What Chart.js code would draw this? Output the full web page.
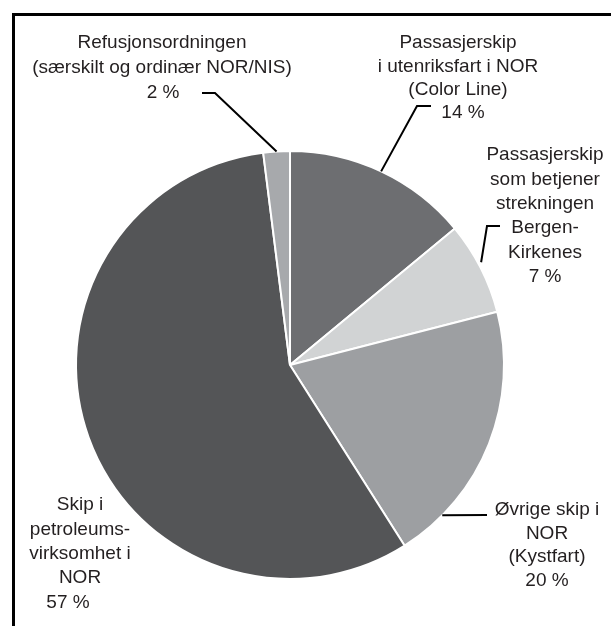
<!DOCTYPE html>
<html>
<head>
<meta charset="utf-8">
<script src="https://cdn.jsdelivr.net/npm/chart.js@4"></script>
<style>
  html, body { margin: 0; padding: 0; background: #fff; }
  #wrap { position: relative; width: 611px; height: 626px; }
</style>
</head>
<body>
<div id="wrap"><canvas id="pie" width="611" height="626"></canvas></div>
<script>
// categories, clockwise from 12 o'clock
const categories = [
  ['Passasjerskip', 'i utenriksfart i NOR', '(Color Line)'],
  ['Passasjerskip', 'som betjener', 'strekningen', 'Bergen-', 'Kirkenes'],
  ['Øvrige skip i', 'NOR', '(Kystfart)'],
  ['Skip i', 'petroleums-', 'virksomhet i', 'NOR'],
  ['Refusjonsordningen', '(særskilt og ordinær NOR/NIS)'],
];
const shares = [14, 7, 20, 57, 2];
const sliceColors = ['#6d6e71', '#d1d3d4', '#9d9fa2', '#545557', '#a7a9ac'];

// where each label sits and how its leader line runs
const labelLayout = [
  { x: 458, y: 43, step: 23.3, pctDx: 5, line: { frac: 0.5, pts: [[417, 106], [431, 106]] } },
  { x: 545, y: 155, step: 24.4, pctDx: 0, line: { frac: 0.45, out: 3, pts: [[487, 226], [500, 226]] } },
  { x: 547, y: 510, step: 23.5, pctDx: 0, line: { frac: 0.82, out: 0, pts: [[487, 515]] } },
  { x: 80, y: 505, step: 24.4, pctDx: -12, line: null },
  { x: 162, y: 43, step: 25, pctDx: 1, line: { frac: 0.5, pts: [[215, 93], [202, 93]] } },
];

const labelPlugin = {
  id: 'leaderLabels',
  beforeDraw(chart) {
    const ctx = chart.ctx;
    ctx.save();
    ctx.fillStyle = '#000';
    ctx.fillRect(12, 13, 3, chart.height);
    ctx.fillRect(12, 13, chart.width, 3);
    ctx.restore();
  },
  afterDraw(chart) {
    const ctx = chart.ctx;
    const arcs = chart.getDatasetMeta(0).data;
    ctx.save();
    ctx.strokeStyle = '#000';
    ctx.lineWidth = 2;
    labelLayout.forEach((lay, i) => {
      if (lay.line) {
        const a = arcs[i];
        const ang = a.startAngle + (a.endAngle - a.startAngle) * lay.line.frac;
        const r = a.outerRadius + (lay.line.out || 0);
        ctx.beginPath();
        ctx.moveTo(a.x + Math.cos(ang) * r, a.y + Math.sin(ang) * r);
        lay.line.pts.forEach(p => ctx.lineTo(p[0], p[1]));
        ctx.stroke();
      }
      ctx.fillStyle = '#231f20';
      ctx.font = '19px "Liberation Sans", Arial, sans-serif';
      ctx.textAlign = 'center';
      ctx.textBaseline = 'middle';
      const lines = categories[i];
      lines.forEach((t, k) => ctx.fillText(t, lay.x, lay.y + k * lay.step));
      ctx.fillText(shares[i] + ' %', lay.x + lay.pctDx, lay.y + lines.length * lay.step);
    });
    ctx.restore();
  },
};

new Chart(document.getElementById('pie'), {
  type: 'pie',
  data: {
    labels: categories.map(c => c.join(' ')),
    datasets: [{
      data: shares,
      backgroundColor: sliceColors,
      borderColor: '#ffffff',
      borderWidth: 2,
    }],
  },
  options: {
    responsive: false,
    animation: false,
    layout: { padding: { left: 75, right: 106, top: 150, bottom: 46 } },
    plugins: { legend: { display: false }, tooltip: { enabled: false } },
  },
  plugins: [labelPlugin],
});
</script>
</body>
</html>
